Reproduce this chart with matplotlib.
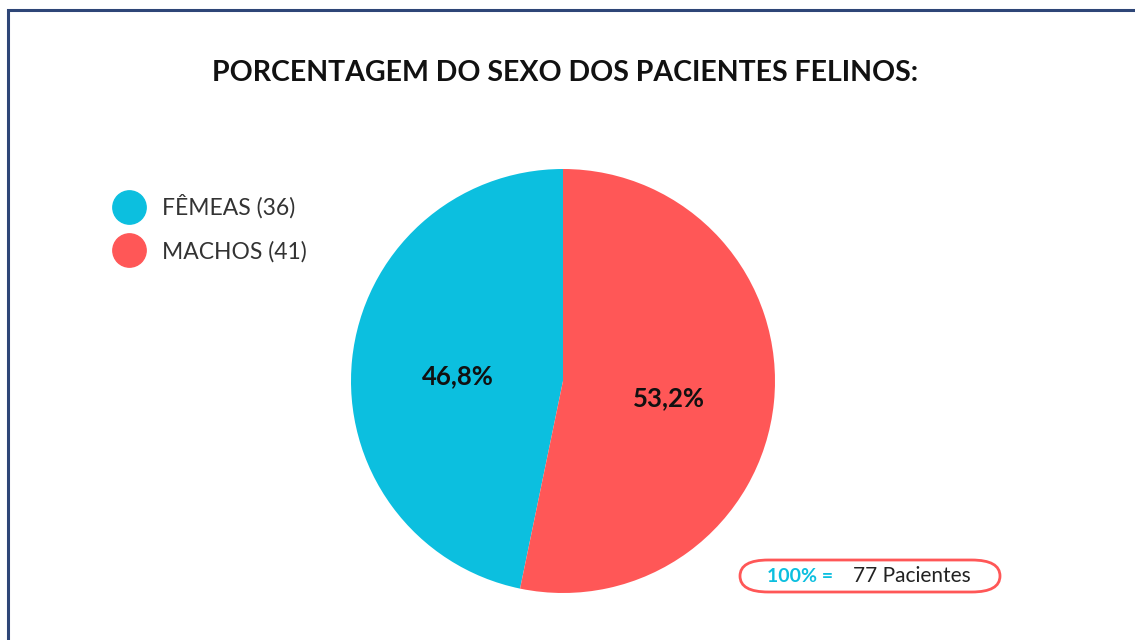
import numpy as np
import matplotlib.pyplot as plt
from matplotlib.lines import Line2D
from matplotlib.patches import Rectangle, FancyBboxPatch

categorias = ['FÊMEAS', 'MACHOS']
pacientes = [36, 41]
cores = ['#0cbfdf', '#ff5757']
rotulos_pct = ['46,8%', '53,2%']
total = sum(pacientes)

plt.rcParams['font.family'] = ['Lato', 'DejaVu Sans']

W, H = 1135, 640
fig = plt.figure(figsize=(W / 100, H / 100), dpi=100)

# moldura azul
fig.patches.append(Rectangle((8 / W, -0.05), 1.2, (H - 10) / H + 0.05, transform=fig.transFigure,
                             fill=False, edgecolor='#2e4677', linewidth=2.2))

fig.text(565 / W, 1 - 73 / H, 'PORCENTAGEM DO SEXO DOS PACIENTES FELINOS:', ha='center', va='center',
         fontsize=20.5, fontweight='bold', color='#111111')

# pizza
cx, cy, r = 563, 381, 212
ax = fig.add_axes([(cx - r) / W, (H - cy - r) / H, 2 * r / W, 2 * r / H])
wedges, textos = ax.pie(pacientes, colors=cores, startangle=90, counterclock=True,
                        wedgeprops=dict(linewidth=0))
for w, t in zip(wedges, rotulos_pct):
    ang = np.deg2rad((w.theta1 + w.theta2) / 2)
    ax.text(0.5 * np.cos(ang), 0.5 * np.sin(ang) - 0.03, t, ha='center', va='center',
            fontsize=18.5, fontweight='bold', color='#111111')
ax.set_xlim(-1, 1)
ax.set_ylim(-1, 1)

# legenda
handles = [Line2D([], [], marker='o', linestyle='', markersize=24, color=c) for c in cores]
labels = [f'{c} ({n})' for c, n in zip(categorias, pacientes)]
fig.legend(handles, labels, loc='upper left', bbox_to_anchor=(85 / W, 1 - 174 / H), frameon=False,
           fontsize=16.5, labelspacing=0.95, handletextpad=0.45, labelcolor='#333333')

# caixa total
fig.patches.append(FancyBboxPatch((740 / W, 1 - 592 / H), 260 / W, 32 / H, transform=fig.transFigure,
                                  boxstyle='round,pad=0,rounding_size=0.025', facecolor='white',
                                  edgecolor='#ff5757', linewidth=2))
fig.text(767 / W, 1 - 576 / H, '100% =', ha='left', va='center', fontsize=14, fontweight='bold',
         color='#0cbfdf')
fig.text(853 / W, 1 - 576 / H, f'{total} Pacientes', ha='left', va='center', fontsize=15,
         color='#222222')

fig.savefig('out.png', dpi=100, facecolor='white')
